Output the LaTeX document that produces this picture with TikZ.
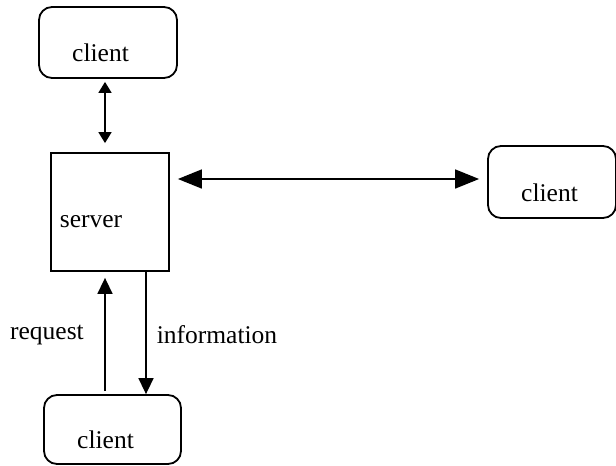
\documentclass[tikz,border=0pt]{standalone}
\usepackage{fontspec}
\setmainfont{Liberation Serif}
\usetikzlibrary{arrows.meta}
\begin{document}
\begin{tikzpicture}[x=1pt,y=-1pt,
  box/.style={draw,line width=1.8pt,rounded corners=13pt,inner sep=0pt},
  srv/.style={draw,line width=1.8pt,inner sep=0pt},
  lbl/.style={font=\fontsize{25.5}{30}\selectfont,inner sep=0pt},
  con/.style={line width=1.6pt},
  big/.style={-{Triangle[length=16pt,width=15pt]}},
  bigb/.style={{Triangle[length=24pt,width=19pt]}-{Triangle[length=24pt,width=19pt]}},
  small/.style={{Triangle[length=11pt,width=13pt]}-{Triangle[length=11pt,width=13pt]}}]
\path[use as bounding box] (0,0) rectangle (616,466);
\node[box,minimum width=138pt,minimum height=71pt] (c1) at (108,42.5) {};
\node[lbl] (t1) at (100.5,53) {client};
\node[box,minimum width=128pt,minimum height=72pt] (c2) at (552,182) {};
\node[lbl] (t2) at (549.5,193) {client};
\node[box,minimum width=137pt,minimum height=69pt] (c3) at (112.5,429.5) {};
\node[lbl] (t3) at (105.5,440) {client};
\node[srv,minimum width=118pt,minimum height=118pt] (s) at (110,212) {};
\node[lbl] (ts) at (91,222) {server};
\draw[con,small,shorten <=3pt,shorten >=9pt] ([xshift=-3pt]c1.south) -- ([xshift=-5pt]s.north);
\draw[con,bigb,shorten <=8pt,shorten >=8pt] ([yshift=33pt]s.east) -- ([yshift=33pt]s.east -| c2.west);
\draw[con,big,shorten <=3pt,shorten >=6pt] ([xshift=-7.5pt]c3.north) -- ([xshift=-5pt]s.south);
\draw[con,big] ([xshift=36pt]s.south) -- ([xshift=36pt]s.south |- c3.north);
\node[lbl] (lr) at (47,335) {request};
\node[lbl] (li) at (217,335) {information};
\end{tikzpicture}
\end{document}
